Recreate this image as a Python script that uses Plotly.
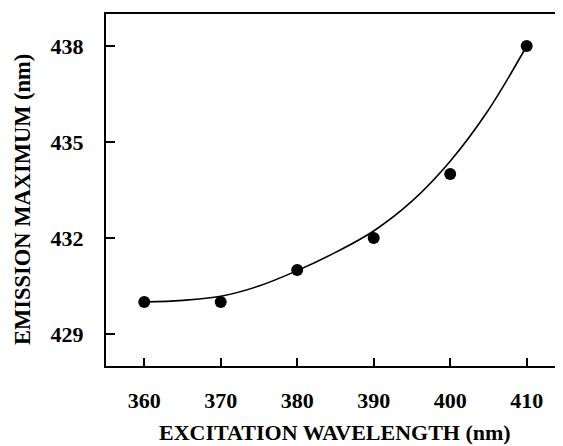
import plotly.graph_objects as go

# Data
excitation = [360, 370, 380, 390, 400, 410]
emission = [430, 430, 431, 432, 434, 438]

# Smooth fitted curve
curve_x = [360, 365, 370, 375, 380, 385, 390, 395, 400, 405, 410]
curve_y = [430.00, 430.05, 430.18, 430.50, 430.98, 431.55, 432.22, 433.15, 434.40, 436.00, 438.00]

x_ticks = [360, 370, 380, 390, 400, 410]
y_ticks = [429, 432, 435, 438]

FONT = "Liberation Serif"

fig = go.Figure()
fig.add_trace(go.Scatter(
    x=curve_x, y=curve_y, mode="lines",
    line=dict(color="black", width=1.6, shape="spline", smoothing=1.0),
    showlegend=False, hoverinfo="skip"))
fig.add_trace(go.Scatter(
    x=excitation, y=emission, mode="markers",
    marker=dict(color="black", size=12),
    showlegend=False))

fig.update_layout(
    width=555, height=438,
    margin=dict(l=98, r=0, t=6, b=80, autoexpand=False),
    paper_bgcolor="white", plot_bgcolor="white",
    font=dict(family=FONT, size=22, color="black"),
    xaxis=dict(
        range=[355.0, 414.75], tickvals=x_ticks,
        ticks="inside", ticklen=8, tickwidth=1.5, tickcolor="black",
        showline=True, linecolor="black", linewidth=2, mirror=True,
        showgrid=False, zeroline=False,
        ticklabelstandoff=14,
        tickfont=dict(family=FONT, size=22, color="black", weight="bold"),
    ),
    yaxis=dict(
        range=[428.0, 439.0], tickvals=y_ticks,
        ticks="inside", ticklen=9, tickwidth=1.5, tickcolor="black",
        showline=True, linecolor="black", linewidth=2, mirror=False,
        showgrid=False, zeroline=False,
        ticklabelstandoff=16,
        tickfont=dict(family=FONT, size=22, color="black", weight="bold"),
    ),
    annotations=[
        dict(text="<b>EXCITATION WAVELENGTH (nm)</b>", xref="paper", yref="paper",
             x=0.501, y=-0.19, xanchor="center", yanchor="middle",
             showarrow=False, font=dict(family=FONT, size=22, color="black")),
        dict(text="<b>EMISSION MAXIMUM (nm)</b>", xref="paper", yref="paper",
             x=0, y=0.4716, xanchor="center", yanchor="middle", xshift=-83,
             textangle=-90,
             showarrow=False, font=dict(family=FONT, size=22.5, color="black")),
    ],
)

fig.write_html("out.html")
